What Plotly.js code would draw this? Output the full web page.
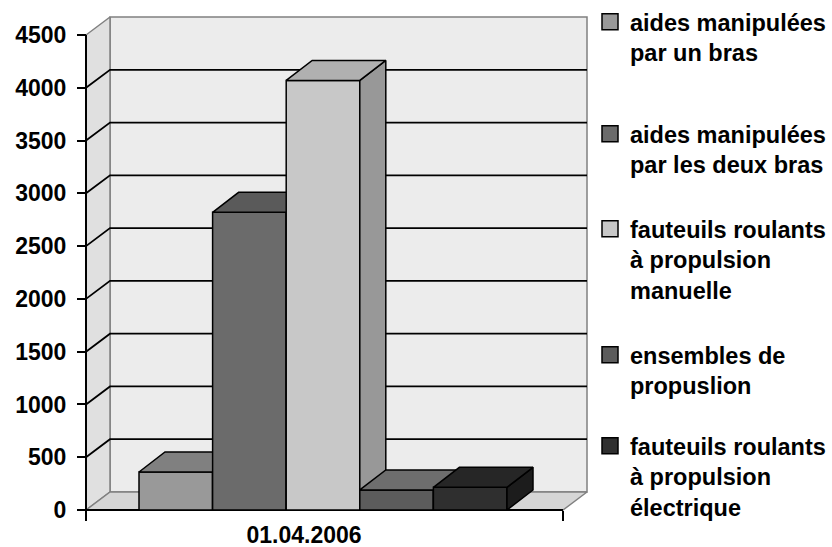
<!DOCTYPE html>
<html>
<head>
<meta charset="utf-8">
<script src="https://cdn.plot.ly/plotly-3.0.1.min.js"></script>
<style>
  html, body { margin: 0; padding: 0; background: #ffffff; }
  #chart { width: 832px; height: 547px; }
</style>
</head>
<body>
<div id="chart"></div>
<script>
// ---- data ----
const category = '01.04.2006';
const seriesNames = [
  'aides manipulées<br>par un bras',
  'aides manipulées<br>par les deux bras',
  'fauteuils roulants<br>à propulsion<br>manuelle',
  'ensembles de<br>propuslion',
  'fauteuils roulants<br>à propulsion<br>électrique'
];
const seriesValues = [360, 2820, 4070, 190, 215];
const yTicks = [0, 500, 1000, 1500, 2000, 2500, 3000, 3500, 4000, 4500];

// ---- styling ----
const frontColors = ['#999999', '#6b6b6b', '#c8c8c8', '#5c5c5c', '#2f2f2f'];
const topColors   = ['#808080', '#5a5a5a', '#b0b0b0', '#6e6e6e', '#262626'];
const sideColors  = ['#737373', '#4f4f4f', '#989898', '#505050', '#1c1c1c'];
const FONT = { family: 'Liberation Sans, Arial, sans-serif', size: 23, color: '#000000', weight: 'bold' };
const LEGEND_FONT = Object.assign({}, FONT, { size: 23.5 });

// ---- geometry of the pseudo-3D box (pixels) ----
const W = 832, H = 547;
const M = { l: 80, r: 242, t: 16, b: 31, autoexpand: false };
const plotW = W - M.l - M.r;
const plotH = H - M.t - M.b;
const pad = 6;                                  // room so edge strokes are not clipped
const yMaxTick = yTicks[yTicks.length - 1];
const pxPerUnit = 475 / yMaxTick;               // vertical scale of the value axis
const toVal = px => px / pxPerUnit;             // vertical pixels -> value units

const floorLen = 477;                           // front edge of the floor
const wallDX = 24, wallDY = toVal(18);          // depth of walls / floor
const barDX = 26, barDY = toVal(20);            // depth of each bar
const wallTop = toVal(493);                     // top of back wall
const wallRight = floorLen + wallDX;
const barLeft0 = 53, barWidth = 73.6;           // first bar's left edge and bar width
const catLabelX = 218;                          // where the category name sits

function poly(pts, fill, stroke, lw, z) {
  const closed = pts.concat([pts[0]]);
  return {
    type: 'scatter', mode: 'lines',
    x: closed.map(p => p[0]), y: closed.map(p => p[1]),
    fill: 'toself', fillcolor: fill,
    line: { color: stroke, width: lw },
    hoverinfo: 'skip', showlegend: false, zorder: z
  };
}
function seg(pts, stroke, lw, z) {
  return {
    type: 'scatter', mode: 'lines',
    x: pts.map(p => p[0]), y: pts.map(p => p[1]),
    line: { color: stroke, width: lw },
    hoverinfo: 'skip', showlegend: false, zorder: z
  };
}

const traces = [];

// walls and floor
traces.push(poly([[wallDX, wallDY], [wallRight, wallDY], [wallRight, wallTop], [wallDX, wallTop]], '#ececec', '#808080', 1.5, 0));
traces.push(poly([[0, 0], [wallDX, wallDY], [wallDX, wallTop], [0, yMaxTick]], '#e0e0e0', '#808080', 1.5, 0));
traces.push(poly([[0, 0], [floorLen, 0], [wallRight, wallDY], [wallDX, wallDY]], '#d6d6d6', '#808080', 1.5, 0));

// gridlines on left wall and back wall
yTicks.filter(v => v > 0 && v < yMaxTick).forEach(v => {
  traces.push(seg([[0, v], [wallDX, v + wallDY], [wallRight, v + wallDY]], '#000000', 1.8, 0));
});

// front axis lines
traces.push(seg([[0, 0], [0, yMaxTick]], '#000000', 2, 0));
traces.push(seg([[0, 0], [floorLen, 0]], '#000000', 2, 0));

// bars: front face, then top and right side faces
seriesValues.forEach((v, i) => {
  const L = barLeft0 + i * barWidth;
  const R = L + barWidth;
  const z = i + 1;
  traces.push({
    type: 'bar', x: [L + barWidth / 2], y: [v], width: [barWidth],
    marker: { color: frontColors[i], line: { color: '#000000', width: 1.5 } },
    hoverinfo: 'skip', showlegend: false, zorder: z
  });
  traces.push(poly([[R, 0], [R + barDX, barDY], [R + barDX, v + barDY], [R, v]], sideColors[i], '#000000', 1.5, z));
  traces.push(poly([[L, v], [R, v], [R + barDX, v + barDY], [L + barDX, v + barDY]], topColors[i], '#000000', 1.5, z));
});

// legend entries, one block per series
const legendTops = [0, 112, 207, 333, 424];      // pixel top of each legend block
const legendLeft = 590;
const layoutLegends = {};
seriesNames.forEach((name, i) => {
  const key = i === 0 ? 'legend' : 'legend' + (i + 1);
  traces.push({
    type: 'scatter', mode: 'markers', x: [null], y: [null], name: name,
    marker: { symbol: 'square', size: 16, color: frontColors[i], line: { color: '#000000', width: 1.5 } },
    legend: key, showlegend: true, hoverinfo: 'skip'
  });
  layoutLegends[key] = {
    x: (legendLeft - M.l) / plotW, xanchor: 'left',
    y: (H - M.b - legendTops[i]) / plotH, yanchor: 'top',
    font: LEGEND_FONT, bgcolor: 'rgba(0,0,0,0)', borderwidth: 0,
    valign: 'top', itemsizing: 'trace', itemclick: false, itemdoubleclick: false
  };
});

const layout = Object.assign({
  width: W, height: H,
  margin: M,
  paper_bgcolor: '#ffffff', plot_bgcolor: 'rgba(0,0,0,0)',
  showlegend: true,
  barmode: 'overlay',
  hovermode: false,
  font: FONT,
  xaxis: {
    range: [-pad, plotW - pad], fixedrange: true,
    showgrid: false, zeroline: false, showline: false,
    anchor: 'free', position: pad / plotH,
    tickmode: 'array', tickvals: [catLabelX], ticktext: [category],
    ticks: '', ticklabelstandoff: 9, tickfont: FONT,
    minor: { tickmode: 'array', tickvals: [0, floorLen], ticks: 'outside', ticklen: 10, tickwidth: 2, tickcolor: '#000000', showgrid: false }
  },
  yaxis: {
    range: [-toVal(pad), toVal(plotH - pad)], fixedrange: true,
    showgrid: false, zeroline: false, showline: false,
    anchor: 'free', position: pad / plotW,
    tickmode: 'array', tickvals: yTicks, ticktext: yTicks.map(String),
    ticks: 'outside', ticklen: 9, tickwidth: 2, tickcolor: '#000000',
    ticklabelstandoff: 6, tickfont: FONT
  }
}, layoutLegends);

Plotly.newPlot('chart', traces, layout, { staticPlot: true, displayModeBar: false });
</script>
</body>
</html>
